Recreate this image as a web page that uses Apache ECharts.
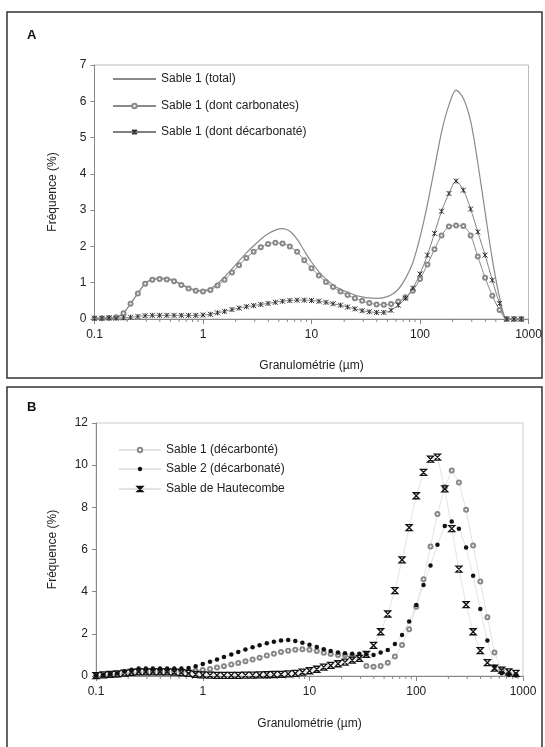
<!DOCTYPE html>
<html><head><meta charset="utf-8">
<script src="https://cdn.jsdelivr.net/npm/echarts@6/dist/echarts.min.js"></script>
<style>html,body{margin:0;padding:0;background:#fff}#c{width:545px;height:747px}</style>
</head><body><div id="c"></div>
<script>
// grain sizes (µm), common to both panels
const sizes = [0.1,0.117,0.136,0.158,0.185,0.215,0.251,0.293,0.341,0.398,0.464,0.541,0.631,0.736,0.858,
  1,1.17,1.36,1.58,1.85,2.15,2.51,2.93,3.41,3.98,4.64,5.41,6.31,7.36,8.58,
  10,11.7,13.6,15.8,18.5,21.5,25.1,29.3,34.1,39.8,46.4,54.1,63.1,73.6,85.8,
  100,117,136,158,185,215,251,293,341,398,464,541,631,736,858];

// Panel A
const aTotal = [0,0,0,0.02,0.16,0.43,0.71,0.98,1.10,1.13,
  1.12,1.06,0.96,0.86,0.80,0.78,0.84,0.97,1.16,1.38,
  1.60,1.82,2.02,2.20,2.35,2.45,2.49,2.42,2.20,1.88,
  1.57,1.30,1.10,0.94,0.82,0.74,0.66,0.61,0.58,0.57,
  0.59,0.66,0.82,1.12,1.55,2.25,3.15,4.15,5.15,5.90,
  6.31,6.08,5.45,4.30,2.95,1.65,0.60,0,0,0];
const aCarb = [0.02,0.02,0.03,0.05,0.16,0.42,0.70,0.97,1.08,1.10,
  1.09,1.04,0.94,0.84,0.78,0.76,0.80,0.92,1.08,1.28,
  1.48,1.68,1.85,1.98,2.07,2.10,2.08,2.00,1.85,1.62,
  1.40,1.20,1.02,0.88,0.76,0.66,0.57,0.50,0.44,0.40,
  0.39,0.41,0.48,0.60,0.78,1.10,1.50,1.92,2.30,2.55,
  2.58,2.56,2.30,1.72,1.14,0.64,0.25,0,0,0];
const aDecarb = [0.02,0.02,0.03,0.02,0.03,0.05,0.07,0.09,0.10,0.10,
  0.10,0.10,0.10,0.10,0.10,0.11,0.13,0.17,0.21,0.26,
  0.30,0.34,0.37,0.40,0.43,0.46,0.49,0.51,0.52,0.52,
  0.51,0.49,0.46,0.42,0.38,0.33,0.28,0.23,0.20,0.18,
  0.18,0.24,0.38,0.57,0.85,1.24,1.76,2.36,2.97,3.46,
  3.80,3.55,3.03,2.40,1.76,1.07,0.43,0,0,0];

// Panel B
const bSable1 = [0.02,0.03,0.04,0.05,0.08,0.12,0.15,0.18,0.20,0.20,
  0.20,0.20,0.20,0.22,0.25,0.28,0.33,0.40,0.46,0.55,
  0.62,0.70,0.78,0.87,0.97,1.06,1.14,1.20,1.25,1.27,
  1.25,1.18,1.10,1.04,1.00,0.98,0.96,0.90,0.47,0.44,
  0.47,0.63,0.92,1.47,2.22,3.29,4.59,6.14,7.68,8.95,
  9.75,9.18,7.88,6.19,4.48,2.79,1.12,0.30,0.10,0.05];
const bSable2 = [0.02,0.05,0.08,0.13,0.22,0.30,0.35,0.36,0.36,0.36,
  0.36,0.36,0.36,0.38,0.46,0.57,0.67,0.78,0.90,1.02,
  1.14,1.26,1.36,1.46,1.55,1.62,1.68,1.71,1.66,1.58,
  1.48,1.37,1.27,1.18,1.12,1.08,1.06,1.05,1.03,1.00,
  1.11,1.23,1.52,1.95,2.58,3.37,4.32,5.24,6.22,7.12,
  7.33,6.99,6.09,4.75,3.18,1.68,0.44,0.13,0.05,0.03];
const bHaute = [0.02,0.05,0.08,0.10,0.14,0.17,0.20,0.20,0.20,0.20,
  0.20,0.18,0.16,0.12,0.08,0.05,0.04,0.03,0.03,0.03,
  0.03,0.04,0.04,0.05,0.06,0.07,0.08,0.10,0.12,0.18,
  0.25,0.32,0.42,0.50,0.58,0.66,0.75,0.84,1.03,1.45,
  2.10,2.94,4.05,5.51,7.04,8.55,9.66,10.29,10.38,8.88,
  6.99,5.07,3.39,2.10,1.20,0.63,0.37,0.28,0.20,0.12];

const xTickLabels = ['0.1','1','10','100','1000'];
const minorTickValues = [0.2,0.3,0.4,0.5,0.6,0.7,0.8,0.9,2,3,4,5,6,7,8,9,20,30,40,50,60,70,80,90,200,300,400,500,600,700,800,900];
const namesA = ['Sable 1 (total)','Sable 1 (dont carbonates)','Sable 1 (dont décarbonaté)'];
const namesB = ['Sable 1 (décarbonté)','Sable 2 (décarbonaté)','Sable de Hautecombe'];

const FONT = "'Liberation Sans', Arial, sans-serif";
const pair = arr => sizes.map((s,k)=>[s, arr[k]]);
const STAR = 'path://M0,0L10,10M10,0L0,10M5,0L5,10';
const HOUR = 'path://M0,0L10,0L0,10L10,10Z';

function xAx(gi,gap){
  return {type:'log', logBase:10, gridIndex:gi, min:0.1, max:1000,
    axisLine:{lineStyle:{color:'#888',width:1}},
    axisTick:{show:true,length:5,lineStyle:{color:'#888'}},
    splitLine:{show:false}, minorTick:{show:false},
    axisLabel:{color:'#222',fontSize:12,fontFamily:FONT,margin:10,
      formatter:v=>{const k=Math.round(Math.log10(v))+1;return xTickLabels[k]!==undefined?xTickLabels[k]:'';}},
    name:'Granulométrie (µm)', nameLocation:'middle', nameGap:gap,
    nameTextStyle:{color:'#222',fontSize:12,fontFamily:FONT}};
}
function yAx(gi,max,interval,gap){
  return {type:'value', gridIndex:gi, min:0, max:max, interval:interval,
    axisLine:{show:true,lineStyle:{color:'#888',width:1}},
    axisTick:{show:true,length:4,lineStyle:{color:'#888'}},
    splitLine:{show:false},
    axisLabel:{color:'#222',fontSize:12,fontFamily:FONT,margin:8},
    name:'Fréquence (%)', nameLocation:'middle', nameGap:gap,
    nameTextStyle:{color:'#222',fontSize:12,fontFamily:FONT}};
}
function minorSeries(gi){
  return {type:'custom', xAxisIndex:gi, yAxisIndex:gi, silent:true, clip:false, z:1,
    data:minorTickValues.map(v=>[v,0]),
    renderItem:(params,api)=>{const p=api.coord([api.value(0),0]);
      return {type:'line',shape:{x1:p[0],y1:p[1],x2:p[0],y2:p[1]+3},style:{stroke:'#888',lineWidth:1}};}};
}
function leg(item,left,top,w){
  return {data:[item],left:left,top:top,padding:0,orient:'vertical',itemWidth:w,itemHeight:5.5,itemGap:5,
    textStyle:{color:'#222',fontSize:12,fontFamily:FONT},selectedMode:false};
}

const chart = echarts.init(document.getElementById('c'),null,{renderer:'canvas'});
chart.setOption({
  animation:false,
  backgroundColor:'#fff',
  graphic:[
    {type:'rect',shape:{x:7,y:12,width:535,height:366},style:{fill:'none',stroke:'#333',lineWidth:1.5},z:-1},
    {type:'rect',shape:{x:7,y:387,width:535,height:362},style:{fill:'none',stroke:'#333',lineWidth:1.5},z:-1},
    {type:'text',left:27,top:29,style:{text:'A',font:"bold 13px "+FONT,fill:'#111'}},
    {type:'text',left:27,top:401,style:{text:'B',font:"bold 13px "+FONT,fill:'#111'}}
  ],
  grid:[
    {left:94.5,top:65,width:434,height:254,show:true,borderColor:'#bbb',borderWidth:1,backgroundColor:'transparent'},
    {left:96,top:423,width:427,height:253,show:true,borderColor:'#ccc',borderWidth:1,backgroundColor:'transparent'}
  ],
  xAxis:[xAx(0,41),xAx(1,42)],
  yAxis:[yAx(0,7,1,36),yAx(1,12,2,37)],
  legend:[
    leg(namesA[0],112,73,43), leg(namesA[1],112,100,43), leg(namesA[2],112,126,43),
    leg(namesB[0],118,444,42), leg(namesB[1],118,463,42), leg(namesB[2],118,483,42)
  ],
  series:[
    {name:namesA[0],type:'line',xAxisIndex:0,yAxisIndex:0,data:pair(aTotal),smooth:0.3,
      symbol:'circle',showSymbol:false,lineStyle:{color:'#8a8a8a',width:1.2},itemStyle:{color:'#8a8a8a',opacity:0}},
    {name:namesA[1],type:'line',xAxisIndex:0,yAxisIndex:0,data:pair(aCarb),smooth:0.3,
      symbol:'emptyCircle',symbolSize:4,showAllSymbol:true,
      lineStyle:{color:'#8a8a8a',width:1},itemStyle:{color:'#888',borderWidth:1}},
    {name:namesA[2],type:'line',xAxisIndex:0,yAxisIndex:0,data:pair(aDecarb),smooth:0.3,
      symbol:STAR,symbolSize:5,showAllSymbol:true,
      lineStyle:{color:'#808080',width:1},itemStyle:{color:'#333',borderColor:'#333',borderWidth:1}},
    {name:namesB[0],type:'line',xAxisIndex:1,yAxisIndex:1,data:pair(bSable1),
      symbol:'emptyCircle',symbolSize:4,showAllSymbol:true,
      lineStyle:{color:'#e2e2e2',width:1},itemStyle:{color:'#888',borderWidth:1}},
    {name:namesB[1],type:'line',xAxisIndex:1,yAxisIndex:1,data:pair(bSable2),
      symbol:'circle',symbolSize:4.5,showAllSymbol:true,
      lineStyle:{color:'#e2e2e2',width:1},itemStyle:{color:'#111',borderColor:'#111',borderWidth:0}},
    {name:namesB[2],type:'line',xAxisIndex:1,yAxisIndex:1,data:pair(bHaute),
      symbol:HOUR,symbolSize:6,showAllSymbol:true,
      lineStyle:{color:'#e2e2e2',width:1},itemStyle:{color:'rgba(0,0,0,0)',borderColor:'#111',borderWidth:1.3}},
    minorSeries(0), minorSeries(1)
  ]
});
</script></body></html>
